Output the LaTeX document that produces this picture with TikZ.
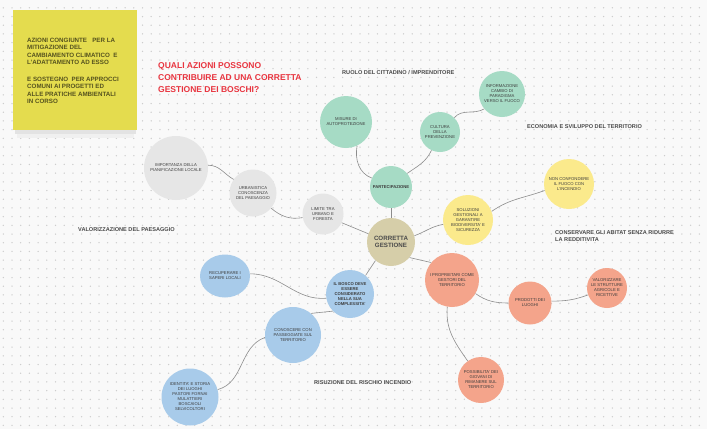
\documentclass[tikz,border=0pt]{standalone}
\usepackage{fontspec}
\setmainfont{Liberation Sans}
\usetikzlibrary{shapes.geometric}
\definecolor{bgc}{HTML}{F9F9F9}
\definecolor{dotc}{HTML}{CDCDCD}
\definecolor{stickyc}{HTML}{E4DC4E}
\definecolor{stickytxt}{HTML}{55521E}
\definecolor{titlec}{HTML}{E8343F}
\definecolor{hdrc}{HTML}{4A4A4A}
\definecolor{txtc}{HTML}{3C3C3C}
\definecolor{linkc}{HTML}{8C8C8C}
\definecolor{grnc}{HTML}{A6DBC5}
\definecolor{tanc}{HTML}{D6CEA9}
\definecolor{yelc}{HTML}{FBEA8C}
\definecolor{grayc}{HTML}{E6E6E6}
\definecolor{bluc}{HTML}{A8CBEA}
\definecolor{salc}{HTML}{F4A48B}
\tikzset{
  bub/.style={circle, inner sep=0pt, align=center, text=txtc, font=\fontsize{4.2}{5}\selectfont},
  grn/.style={bub, fill=grnc},
  yel/.style={bub, fill=yelc},
  gry/.style={bub, fill=grayc},
  blu/.style={bub, fill=bluc},
  sal/.style={bub, fill=salc},
  link/.style={draw=linkc, line width=0.6pt},
  hdr/.style={font=\bfseries\fontsize{5.6}{7}\selectfont, text=hdrc, anchor=west, inner sep=0pt, align=left},
}
\begin{document}
\begin{tikzpicture}[x=1pt,y=-1pt]
\useasboundingbox (0,0) rectangle (707,429);
\fill[bgc] (0,0) rectangle (707,429);
\foreach \i in {0,...,80} {
  \foreach \j in {0,...,49} {
    \fill[dotc] (3.3+\i*8.7, 7.8+\j*8.7) circle (0.75);
  }
}
% sticky note with shadow
\fill[black!6] (17,122) rectangle (134,138);
\fill[black!11] (15,118) rectangle (136,134);
\fill[stickyc] (13,10) rectangle (137,130);
\node[anchor=north west, inner sep=0pt, align=left, text=stickytxt,
      font=\bfseries\fontsize{6.2}{7.5}\selectfont] (note) at (27,37.5)
  {AZIONI CONGIUNTE \ \ PER LA\\ MITIGAZIONE DEL\\ CAMBIAMENTO CLIMATICO \ E\\ L'ADATTAMENTO AD ESSO\\[9pt]
   E SOSTEGNO \ PER APPROCCI\\ COMUNI AI PROGETTI ED\\ ALLE PRATICHE AMBIENTALI\\ IN CORSO};
% title
\node[anchor=north west, inner sep=0pt, align=left, text=titlec,
      font=\bfseries\fontsize{8.5}{12}\selectfont] (title) at (158,62)
  {QUALI AZIONI POSSONO\\ CONTRIBUIRE AD UNA CORRETTA\\ GESTIONE DEI BOSCHI?};
% headers
\node[hdr] (h1) at (342,73) {RUOLO DEL CITTADINO / IMPRENDITORE};
\node[hdr] (h2) at (527,127) {ECONOMIA E SVILUPPO DEL TERRITORIO};
\node[hdr] (h3) at (78,230) {VALORIZZAZIONE DEL PAESAGGIO};
\node[hdr, anchor=north west] (h4) at (555,230) {CONSERVARE GLI ABITAT SENZA RIDURRE\\ LA REDDITIVITA};
\node[hdr] (h5) at (314,383) {RISUZIONE DEL RISCHIO INCENDIO};
% bubbles
\node[bub, fill=tanc, minimum size=48, font=\bfseries\fontsize{6.2}{7.6}\selectfont, text=hdrc] (cg) at (391,242) {CORRETTA\\ GESTIONE};
\node[grn, minimum size=42, font=\bfseries\fontsize{4.2}{5}\selectfont] (part) at (391,187) {PARTECIPAZIONE};
\node[grn, minimum size=52] (mis) at (346,122) {MISURE DI\\ AUTOPROTEZIONE};
\node[grn, minimum size=40] (cul) at (440,132) {CULTURA\\ DELLA\\ PREVENZIONE};
\node[grn, minimum size=46] (inf) at (502,94) {INFORMAZIONE\\ CAMBIO DI\\ PARADIGMA\\ VERSO IL FUOCO};
\node[yel, minimum size=50] (sol) at (468,220) {SOLUZIONI\\ GESTIONALI A\\ GARANTIRE\\ BIODIVERSITA' E\\ SICUREZZA};
\node[yel, minimum size=50] (non) at (569,184) {NON CONFONDERE\\ IL FUOCO CON\\ L'INCENDIO};
\node[gry, minimum size=41] (lim) at (323,214) {LIMITE TRA\\ URBANO E\\ FORESTA};
\node[gry, minimum size=47] (urb) at (253,193) {URBANISTICA\\ CONOSCENZA\\ DEL PAESAGGIO};
\node[gry, minimum size=64] (imp) at (176,168) {IMPORTANZA DELLA\\ PIANIFICAZIONE LOCALE};
\node[blu, minimum size=48, font=\bfseries\fontsize{4.2}{5}\selectfont] (bos) at (350,294) {IL BOSCO DEVE\\ ESSERE\\ CONSIDERATO\\ NELLA SUA\\ COMPLESSITA'};
\node[blu, ellipse, minimum width=50, minimum height=43] (rec) at (225,276) {RECUPERARE I\\ SAPERI LOCALI};
\node[blu, minimum size=56] (con) at (293,335) {CONOSCERE CON\\ PASSEGGIATE SUL\\ TERRITORIO};
\node[blu, minimum size=57] (ide) at (190,397) {IDENTITA' E STORIA\\ DEI LUOGHI\\ PASTORI FORNAI\\ MULATTIERI\\ BOSCAIOLI\\ SELVICOLTORI};
\node[sal, minimum size=54] (pro) at (452,280) {I PROPRIETARI COME\\ GESTORI DEL\\ TERRITORIO};
\node[sal, minimum size=43] (prd) at (530,303) {PRODOTTI DEI\\ LUOGHI};
\node[sal, minimum size=40] (val) at (607,288) {VALORIZZARE\\ LE STRUTTURE\\ AGRICOLE E\\ RICETTIVE};
\node[sal, minimum size=46] (pos) at (481,380) {POSSIBILITA' DEI\\ GIOVANI DI\\ RIMANERE SUL\\ TERRITORIO};
% connectors
\draw[link] (cg) -- (part);
\draw[link] (mis.-65) to[out=-100,in=160] (part.155);
\draw[link] (part.40) to[out=35,in=-115] (cul.-115);
\draw[link] (cul.45) to[out=50,in=-150] (inf.-140);
\draw[link] (cg.15) to[out=20,in=190] (sol.190);
\draw[link] (sol.20) to[out=35,in=200] (non.195);
\draw[link] (cg.160) -- (lim.-25);
\draw[link] (lim.190) to[out=190,in=-40] (urb.-40);
\draw[link] (urb.145) to[out=150,in=0] (imp.5);
\draw[link] (cg.-130) -- (bos.50);
\draw[link] (rec.5) to[out=0,in=185] (bos.190);
\draw[link] (bos.-135) -- (con.50);
\draw[link] (con.185) to[out=200,in=15] (ide.15);
\draw[link] (cg.-40) -- (pro.140);
\draw[link] (pro.-30) to[out=-35,in=180] (prd.180);
\draw[link] (prd.5) to[out=0,in=200] (val.200);
\draw[link] (pro.-100) to[out=-95,in=125] (pos.125);
\end{tikzpicture}
\end{document}
